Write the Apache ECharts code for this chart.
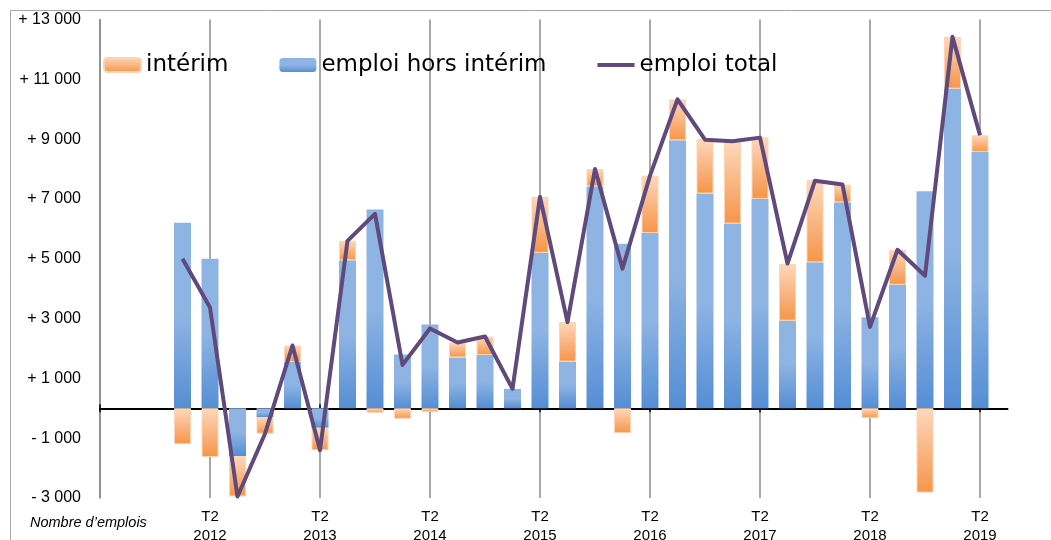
<!DOCTYPE html>
<html><head><meta charset="utf-8">
<script src="https://cdn.jsdelivr.net/npm/echarts@6/dist/echarts.min.js"></script>
<style>html,body{margin:0;padding:0;background:#fff}#c{width:1051px;height:540px}</style>
</head><body><div id="c"></div>
<script>
// Quarters (T2 2011 .. T3 2019); the first three and the last have no data
const quarters = [
  'T2 2011','T3 2011','T4 2011',
  'T1 2012','T2 2012','T3 2012','T4 2012',
  'T1 2013','T2 2013','T3 2013','T4 2013',
  'T1 2014','T2 2014','T3 2014','T4 2014',
  'T1 2015','T2 2015','T3 2015','T4 2015',
  'T1 2016','T2 2016','T3 2016','T4 2016',
  'T1 2017','T2 2017','T3 2017','T4 2017',
  'T1 2018','T2 2018','T3 2018','T4 2018',
  'T1 2019','T2 2019','T3 2019'
];
const emploiHorsInterim = [null,null,null,
  6200,5000,-1600,-300,
  1550,-650,4950,6650,
  1800,2800,1700,1780,
  650,5200,1560,7420,
  5500,5860,8960,7180,
  6175,7000,2930,4880,
  6890,3040,4130,7260,
  10690,8570,null];
const interim = [null,null,null,
  -1200,-1630,-1350,-550,
  550,-750,650,-150,
  -350,-130,500,620,
  null,1870,1320,580,
  -830,1920,1370,1830,
  2725,2065,1900,2745,
  590,-330,1170,-2820,
  1730,560,null];
const emploiTotal = [null,null,null,
  5000,3370,-2950,-850,
  2100,-1400,5600,6500,
  1450,2670,2200,2400,
  650,7070,2880,8000,
  4670,7780,10330,8980,
  8930,9050,4840,7610,
  7480,2720,5300,4430,
  12420,9130,null];
const yMin = -3000, yMax = 13000, yStep = 1000;

function fmtY(v) {
  if (Math.round(v / 1000) % 2 === 0) return '';
  const s = String(Math.abs(v)).replace(/\B(?=(\d{3})+(?!\d))/g, ' ');
  return (v > 0 ? '+ ' : '- ') + s;
}
const isT2 = (i, v) => v.indexOf('T2') === 0;
const isT2Label = (i, v) => v.indexOf('T2') === 0 && v.indexOf('2011') < 0;

const chart = echarts.init(document.getElementById('c'), null, {renderer: 'canvas'});
const blueGrad = new echarts.graphic.LinearGradient(0, 0, 0, 1, [
  {offset: 0, color: '#8EB4E3'}, {offset: 0.5, color: '#8EB4E3'}, {offset: 1, color: '#558ED5'}]);
const orangeGrad = new echarts.graphic.LinearGradient(0, 0, 0, 1, [
  {offset: 0, color: '#FDD8BC'}, {offset: 0.75, color: '#F8A566'}, {offset: 1, color: '#F79646'}]);

chart.setOption({
  animation: false,
  backgroundColor: '#fff',
  grid: {left: 100, right: 43.5, top: 19.5, bottom: 42, outerBoundsMode: 'none', containLabel: false},
  legend: {
    left: 103, top: 52, padding: 0,
    itemWidth: 37, itemHeight: 14, itemGap: 51,
    data: ['intérim', 'emploi hors intérim', {name: 'emploi total', icon: 'path://M0,0H37V4H0Z'}],
    textStyle: {fontFamily: 'DejaVu Sans', fontSize: 23, color: '#000', lineHeight: 26}
  },
  xAxis: [
    {
      type: 'category', data: quarters, boundaryGap: false, position: 'bottom',
      axisLine: {show: false, onZero: false}, axisTick: {show: false},
      axisLabel: {interval: isT2Label, formatter: v => v.replace(' ', '\n'),
        fontFamily: 'Liberation Sans', fontSize: 15, lineHeight: 19, color: '#000', margin: 9.5},
      splitLine: {show: true, interval: isT2, lineStyle: {color: '#8C8C8C', width: 1.5}}
    },
    {
      type: 'category', data: quarters, boundaryGap: false, position: 'bottom',
      axisLine: {show: true, onZero: true, onZeroAxisIndex: 0, lineStyle: {color: '#000', width: 2}},
      axisTick: {show: true, interval: isT2, length: 4, lineStyle: {color: '#000', width: 1.5}},
      axisLabel: {show: false}, splitLine: {show: false}
    },
    {
      type: 'category', data: quarters, boundaryGap: false, position: 'bottom',
      axisLine: {show: false, onZero: true, onZeroAxisIndex: 0},
      axisTick: {show: true, inside: true, interval: isT2, length: 4, lineStyle: {color: '#000', width: 1.5}},
      axisLabel: {show: false}, splitLine: {show: false}
    }
  ],
  yAxis: {
    type: 'value', min: yMin, max: yMax, interval: yStep,
    axisLine: {show: true, lineStyle: {color: '#8C8C8C', width: 1.5}},
    axisTick: {show: false}, splitLine: {show: false},
    axisLabel: {formatter: fmtY, fontFamily: 'Liberation Sans', fontSize: 16, color: '#000', margin: 19}
  },
  series: [
    {
      name: 'emploi hors intérim', type: 'bar', stack: 'emploi', barWidth: 17,
      data: emploiHorsInterim, itemStyle: {color: blueGrad}, z: 2
    },
    {
      name: 'intérim', type: 'bar', stack: 'emploi', barWidth: 17,
      data: interim, itemStyle: {color: orangeGrad, borderColor: '#FCD5B5', borderWidth: 1}, z: 2
    },
    {
      name: 'emploi total', type: 'line', data: emploiTotal, symbol: 'none',
      lineStyle: {color: '#604A7B', width: 4, join: 'round'}, itemStyle: {color: '#604A7B'}, z: 5
    }
  ],
  graphic: [
    {type: 'rect', silent: true, z: -1,
      shape: {x: 10.5, y: 10.5, width: 1200, height: 700},
      style: {fill: null, stroke: '#A6A6A6', lineWidth: 1}},
    {type: 'text', silent: true, x: 30, y: 523,
      style: {text: 'Nombre d’emplois', font: 'italic 14.5px "Liberation Sans"', fill: '#000', verticalAlign: 'middle'}}
  ]
});
</script></body></html>
